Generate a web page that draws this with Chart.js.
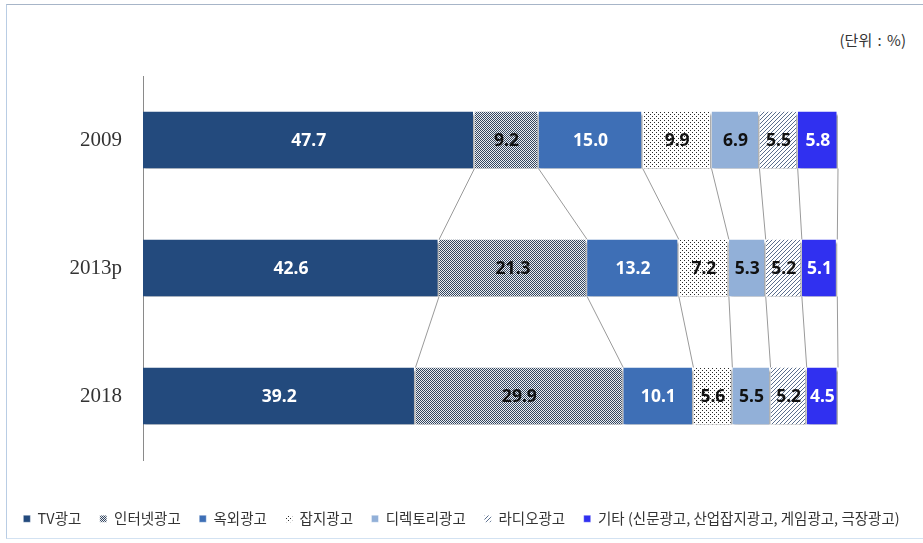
<!DOCTYPE html>
<html>
<head>
<meta charset="utf-8">
<script src="https://cdn.jsdelivr.net/npm/chart.js@4.4.1/dist/chart.umd.min.js"></script>
<style>
  body { margin: 0; background: #fff; }
  #wrap { position: relative; width: 923px; height: 543px; overflow: hidden; }
  #frame {
    position: absolute; left: 6px; top: 4px; width: 960px; height: 535px;
    border: 1px solid #a7b5c8; border-bottom-color: #d3e2f2; border-left-color: #b9cde4;
    box-sizing: border-box;
  }
  #unit {
    position: absolute; right: 17px; top: 29px; word-spacing: 2px;
    font: 15px "Noto Sans CJK KR", sans-serif; color: #333;
  }
  canvas { position: absolute; left: 0; top: 0; }
</style>
</head>
<body>
<div id="wrap">
  <div id="frame"></div>
  <div id="unit">(단위 : %)</div>
  <canvas id="chart" width="923" height="543"></canvas>
</div>
<script>
const years = ['2009', '2013p', '2018'];
const seriesNames = ['TV광고', '인터넷광고', '옥외광고', '잡지광고', '디렉토리광고', '라디오광고', '기타 (신문광고, 산업잡지광고, 게임광고, 극장광고)'];
const tvAds = [47.7, 42.6, 39.2];
const internetAds = [9.2, 21.3, 29.9];
const outdoorAds = [15.0, 13.2, 10.1];
const magazineAds = [9.9, 7.2, 5.6];
const directoryAds = [6.9, 5.3, 5.5];
const radioAds = [5.5, 5.2, 5.2];
const otherAds = [5.8, 5.1, 4.5];

const canvas = document.getElementById('chart');
const ctx = canvas.getContext('2d');

// small tiles for the hatched series
function makePattern(size, bg, fg, draw) {
  const c = document.createElement('canvas');
  c.width = c.height = size;
  const g = c.getContext('2d');
  g.fillStyle = bg;
  g.fillRect(0, 0, size, size);
  g.fillStyle = fg;
  draw(g, size);
  return ctx.createPattern(c, 'repeat');
}

const checker = makePattern(2, '#eceef2', '#33465f', (g) => {
  g.fillRect(0, 0, 1, 1);
  g.fillRect(1, 1, 1, 1);
});
const dots = makePattern(4, '#ffffff', '#2a2a2a', (g) => {
  g.fillRect(0, 0, 1, 1);
  g.fillRect(2, 2, 1, 1);
});
const hatch = makePattern(4, '#ffffff', '#5a6e8e', (g, s) => {
  for (let i = 0; i < s; i++) g.fillRect(i, s - 1 - i, 1, 1);
});

const values = [tvAds, internetAds, outdoorAds, magazineAds, directoryAds, radioAds, otherAds];
const fills = ['#234a7d', checker, '#3e6fb6', dots, '#92b0d8', hatch, '#3030f0'];
const labelColors = ['#fff', '#111', '#fff', '#111', '#111', '#111', '#fff'];

const datasets = values.map((v, k) => ({
  label: seriesNames[k],
  data: v,
  backgroundColor: fills[k],
  borderColor: '#ffffff',
  borderWidth: { top: 0, bottom: 0, left: 0, right: 1.5 },
  borderSkipped: false,
  labelColor: labelColors[k],
  categoryPercentage: 1,
  barPercentage: 0.445,
}));

const barDecor = {
  id: 'barDecor',
  beforeDatasetsDraw(chart) {
    const c = chart.ctx;
    const n = chart.data.datasets.length;
    // series lines between consecutive bars
    c.save();
    c.strokeStyle = '#9a9a9a';
    c.lineWidth = 1;
    for (let i = 0; i < years.length - 1; i++) {
      for (let k = 0; k < n; k++) {
        const meta = chart.getDatasetMeta(k);
        const a = meta.data[i], b = meta.data[i + 1];
        c.beginPath();
        c.moveTo(a.x, a.y + a.height / 2);
        c.lineTo(b.x, b.y - b.height / 2);
        c.stroke();
      }
    }
    c.restore();
    c.save();
    c.shadowColor = 'rgba(0,0,0,0.35)';
    c.shadowOffsetX = 2;
    c.shadowOffsetY = 3;
    c.shadowBlur = 2;
  },
  afterDatasetsDraw(chart) {
    const c = chart.ctx;
    c.restore();
    c.save();
    c.font = 'bold 17.5px "Noto Sans", sans-serif';
    c.textAlign = 'center';
    c.textBaseline = 'middle';
    chart.data.datasets.forEach((ds, k) => {
      chart.getDatasetMeta(k).data.forEach((el, i) => {
        const p = el.getCenterPoint();
        c.fillStyle = ds.labelColor;
        c.fillText(ds.data[i].toFixed(1), p.x, p.y + 1);
      });
    });
    c.restore();
  }
};

new Chart(ctx, {
  type: 'bar',
  data: { labels: years, datasets },
  plugins: [barDecor],
  options: {
    indexAxis: 'y',
    responsive: false,
    animation: false,
    layout: { padding: { top: 76, bottom: 7, left: 0, right: 0 } },
    scales: {
      x: {
        stacked: true,
        min: 0,
        max: 100,
        grid: { display: false },
        border: { display: false },
        ticks: { display: false },
        afterFit(s) { s.height = 33; },
      },
      y: {
        stacked: true,
        grid: { display: false, drawTicks: false },
        border: { display: true, color: '#8a8a8a', width: 1 },
        ticks: {
          color: '#333',
          padding: 21,
          font: { family: '"Liberation Serif", serif', size: 21 },
        },
        afterFit(s) { s.width = 143; },
      },
      yRight: {
        type: 'category',
        position: 'right',
        grid: { display: false },
        border: { display: false },
        ticks: { display: false },
        afterFit(s) { s.width = 85; },
      },
    },
    plugins: {
      tooltip: { enabled: false },
      legend: {
        position: 'bottom',
        labels: {
          color: '#333',
          boxWidth: 7,
          boxHeight: 7,
          padding: 18.5,
          font: { family: '"Noto Sans CJK KR", sans-serif', size: 14.5 },
        },
      },
    },
  },
});
</script>
</body>
</html>
